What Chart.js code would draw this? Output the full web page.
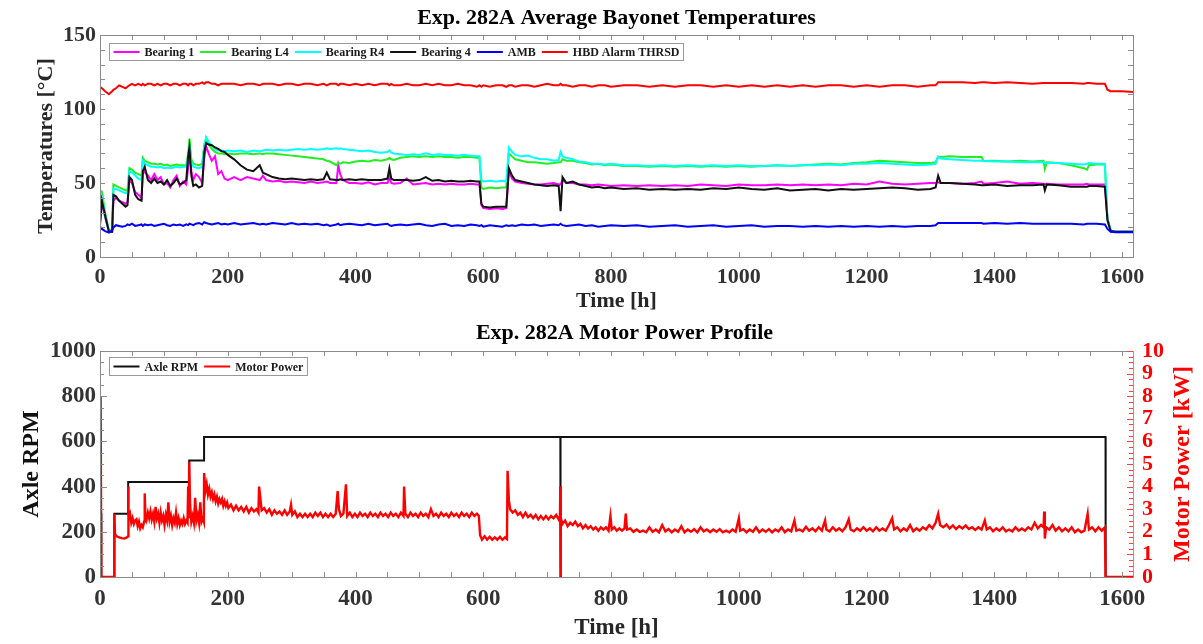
<!DOCTYPE html>
<html><head><meta charset="utf-8">
<script src="https://cdn.jsdelivr.net/npm/chart.js@4.4.1/dist/chart.umd.min.js"></script>
<style>
html,body{margin:0;padding:0;background:#fff;}
#wrap{position:relative;width:1203px;height:644px;overflow:hidden;}
canvas{position:absolute;left:0;}
#c1{top:0;} #c2{top:318px;}
</style></head><body>
<div id="wrap"><canvas id="c1" width="1203" height="318"></canvas><canvas id="c2" width="1203" height="326"></canvas></div>
<script>
// ---------- DATA ----------
const xTickValues = [0,200,400,600,800,1000,1200,1400,1600];
const tempTickValues = [0,50,100,150];
const rpmTickValues = [0,200,400,600,800,1000];
const kwTickValues = [0,1,2,3,4,5,6,7,8,9,10];

const tempHours = [0,3,8,14,19,21,25,30,35,40,
43,46,50,55,60,65,67,70,75,80,
85,90,95,100,105,110,115,120,125,130,
135,138,140,143,146,150,155,160,163,166,
170,175,180,185,190,195,200,210,220,230,
240,250,255,260,270,280,290,300,310,320,
330,340,350,355,360,370,373,376,380,390,
400,410,420,430,440,450,453,456,460,470,
480,490,500,510,520,530,540,550,560,570,
580,590,594,597,600,610,620,630,636,640,
645,650,660,670,680,690,700,710,718,721,
724,730,740,750,760,770,780,790,800,820,
840,860,880,900,920,940,960,980,1000,1020,
1040,1060,1080,1100,1120,1140,1160,1180,1200,1220,
1240,1260,1280,1300,1308,1312,1316,1330,1350,1370,
1380,1383,1400,1420,1440,1460,1477,1479,1482,1500,
1520,1540,1545,1548,1560,1573,1577,1582,1590,1600,
1617];

const bearing1 = [22,37,27,17,17,38,40,38,37,36,
37,52,50,44,42,40,56,58,55,52,
56,52,54,49,50,47,52,55,48,51,
49,60,72,58,52,56,54,50,66,75,
70,65,68,56,58,53,52,54,52,54,
53,52,55,52,51,51.5,50.5,51,50.5,50,
51,50,50.5,51,50,50,62,56,52,50,
50,49.5,50.5,49,50,50,54,50,49.5,50,
53,49,49.5,50,49,49.5,49,49.5,49,49,
49.5,49,49,35,33,32.5,33,32.5,33,58,
53,51,50,49.5,49,49,49.5,50,49,49,
52,50,50,49,49,48.5,49,48.5,48,48.5,
48,48.5,48,48.5,48,49,48.5,48,49,48.5,
48.5,49,48.5,49,48.5,49,48.5,49.5,49,51,
49.5,49,49.5,50,50,50.5,50,50,49.5,50,
51,49.5,50,51,49.5,50,49.5,49,49.5,49,
49,49,49.5,49,49,49,26,18,17,17,
17];

const bearingL4 = [45,44,30,18,18,49,48,47,46,45,
45,60,59,57,56,55,67,65,64,63,
63,62.5,63,62,62.5,61.5,62,62.5,62,62,
62,70,80,66,63,62.5,62,63,75,80,
76,73,71,70,70,69.5,70,69.5,70,70,
69.5,70,69.5,70,70,69.5,69,68.5,68,67.5,
67,66.5,66,65,64.5,62,63.5,63,64,63.5,
64.5,65,64.5,65.5,65,66,67,66,65.5,67,
67.5,68,67.5,68,67.5,68,67.5,67.5,67,67.5,
67.5,67,67,47,46,47,46.5,47,47,70,
68,66,65,64,64,63.5,63,63.5,64,64,
66,65,65,64,63.5,62.5,63,62,62.5,61.5,
61.5,61,61.5,61,61.5,61,61.5,61,61.5,61,
61.5,62,61.5,62,62.5,63,62.5,63.5,64,65,
64.5,64,63.5,63.5,64,67.5,67.5,68,67.5,67.5,
67.5,64.8,65,64.5,65,64.5,65,59.5,64,63.5,
62,60,59,62,62.5,62.5,25,18,17,17,
17];

const bearingR4 = [42,41,28,17.5,17.5,46,46,45,44,43,
43,58,57,55,53,52,65,63,62,61,
61,60.5,61,60,60.5,60,60.5,61,60.5,61,
61,68,74,64,61,60.5,60,61,74,81,
78,75,73,72,72,71.5,72,71.5,72,71,
72,71.5,72,72.5,72,72.5,72,72.5,73,72.5,
73,72.5,73,73.5,73,73.5,73,73.5,73,72.5,
72,71.5,72,71,70.5,71,72,70.5,70,69.5,
69,69.5,69,70,69,69.5,69,69,68.5,69,
68.5,68,68,52,51,51.5,51,51.5,51,74,
71,69,68,68.5,67,66,66,65,65.5,71,
68,67,66,64.5,64,63,63,62.5,63,62,
62,61.5,62,61.5,62,61.5,62,61.5,62,61.5,
61.5,62,61.5,62,62,62.5,62,63,63,63.5,
63,62.5,62,62.5,63,68,66.5,66,65.5,65,
65,64.8,64.5,64.5,64,64,64,63.5,63.5,63.5,
63,62.5,63,63.5,63,63,25,18,17,17,
17];

const bearing4 = [22,38,28,17,17,42,41,38,36,34,
35,54,52,42,39,38,58,61,52,50,
53,50,51,49,52,48,50,53,49,50,
52,68,74,55,48,49,47,48,70,77,
76,75.5,74,73,71.5,71,69,66,62,59,
58,62,57,56,54,53,52.5,53,52.5,52,
52.5,52,52.5,57,52.5,52,52,52.5,52,52.5,
52,52.5,52,52,52,53,60,53,52,52,
52,51.5,52,54,51.5,52,51,51.5,51,51,
51.5,51,51,36,34,33.5,34,34,34,60,
55,52,51,50,49,48.5,48,48.5,48,31,
54,50,51,49,48,47,47.5,46.5,47,46,
46.5,45.5,46,45.5,46,45.5,46.5,46,47,46,
45.5,46.5,45,45.5,46,45,46,45.5,46,46.5,
47,46.5,45.5,46,47,55,50,50,49.5,49,
48.5,48.5,49,48,48.5,48.5,49,45,49,48.5,
47.5,47.5,47.5,48,48,47.5,25,17.5,17,17,
17];

const amb = [20.5,19,17.5,16.5,18,20,21.5,21,20.5,21,
22,21.5,22.5,21,21.5,22,21,22,21.5,22,
21,21.5,22,22.5,21.5,21,22,21.5,22,21,
22,21.5,22.5,22,21.5,22.5,23,22,23.5,23,
22.5,22,22.5,23,22,22.5,22,23,22,22.5,
23,22,22.5,22,23,22.5,22,23,22,22.5,
22,22.5,21.5,22,21,22,22.5,21.5,22,22.5,
22,21.5,22.5,21.5,22,22.5,21.5,21,21.5,22,
21.5,22,22.5,21.5,21,22,22.5,21,21.5,21,
22,21.5,21,21.5,20.5,21.5,21,20.5,21.5,21,
21.5,21,22,21.5,22,21,21.5,22,21.5,22.5,
21.5,21,21.5,22,21,21.5,20.5,21,21.5,21,
21.5,20.5,21,21.5,20.5,21,21.5,20.5,21,21.5,
20.5,21,21,20.5,21,20.5,21,20.5,21,20.5,
21,20.5,21,21,21.5,23,23,23,23,23,
23,22.5,23,22.5,23,22.5,22.5,22.5,22.5,22.5,
22.5,22,22.5,22.5,22.5,22,19,17,16.8,16.8,
16.8];

const hbdAlarm = [115,114,112,110,112,113,114,116,115,114,
115,116,117,116,117,116,117,116,117,117,
116,117,116,117,117,116,117,117,116,117,
117,116,117,117,116,117,117,118,117,118,
118,117,117,116,117,117,117,117,116,117,
117,116,117,117,117,116,117,117,116,117,
117,116,117,116,117,117,116,117,117,116,
117,116,117,116,117,117,116,117,116,116,
117,116,116,117,116,117,116,116,117,116,
116,115,116,115,116,115,116,116,115,116,
116,115,116,116,115,116,117,116,116,117,
116,116,115,116,116,115,116,116,115,116,
116,115,116,115,116,116,115,116,115,116,
115,116,115,116,115,116,116,115,116,115,
116,116,115,116,116,118,118,118,118,117.5,
118,118,117.5,118,117.5,117,117.5,117.5,117.5,117.5,
117.5,117,117.5,117.5,117,117,113,112,112,112,
111.5];

// [hour, RPM]
const axleRpm = [[0,280],[2,280],[2.1,0],[22.4,0],[22.5,280],[44,280],[44.1,420],[139.5,420],[139.6,515],
[162.8,515],[162.9,620],[720.6,620],[720.8,0],[721,620],[1574,620],[1574.2,0],[1617,0]];

// [hour, kW]
const motorPower = [[0,2.8],[0.6,8],[1.4,8],[2,0],[22.3,0],[22.4,2.8],[23.5,1.9],[26,1.8],[30,1.75],[34,1.72],[38,1.7],[42,1.75],[43.9,1.8],
[44,4.0],[45,2.6],[47,2.8],[49,2.4],[51,2.6],[53,2.35],[55,2.5],[57,2.55],[59,2.25],[61,2.45],[63,2.15],[65,2.3],[67,2.2],[69,2.45],
[70,3.7],[71,2.8],[73,2.55],[75,2.85],[77,2.6],[79,2.9],[81,2.55],[83,2.8],[85,2.45],[87,3.1],[89,2.6],[91,2.8],[93,2.4],[95,2.85],[97,2.5],[99,2.7],
[101,2.3],[103,2.75],[105,2.5],[107,3.3],[109,2.45],[111,2.7],[113,2.3],[115,2.6],[117,2.4],[119,2.85],[121,2.35],[123,2.6],[125,2.3],[127,2.5],
[129,2.35],[131,2.6],[133,2.35],[135,2.5],[137,2.4],[138,4.0],[139,2.6],
[139.6,5.1],[141,3.2],[143,2.45],[145,2.7],[147,2.4],[149,3.5],[151,2.5],[153,2.75],[155,2.4],[157,3.3],[159,2.45],[161,2.6],[162.5,2.45],
[163,4.6],[165,3.8],[167,4.1],[169,3.65],[171,3.9],[173,3.55],[175,3.75],[177,3.45],[179,3.65],[181,3.35],[183,3.55],[185,3.25],[187,3.45],[189,3.3],
[191,3.45],[193,3.15],[195,3.35],[197,3.15],[199,3.3],
[201,3.05],[205,3.2],[209,2.95],[213,3.15],[217,2.95],[221,3.1],[225,2.9],[229,3.1],[233,2.85],[237,3.05],[241,2.9],[245,3.0],[248,2.85],[249,4.0],
[251,3.5],[253,2.95],[257,3.05],[261,2.85],[265,3.0],[269,2.75],[273,2.95],[277,2.8],[281,2.9],[285,2.75],[289,2.95],[293,2.75],[297,2.9],[299,3.2],
[301,2.75],[305,2.9],[309,2.65],[313,2.8],[317,2.65],[321,2.8],[325,2.65],[329,2.8],[333,2.65],[337,2.85],[341,2.7],[345,2.85],[349,2.65],[353,2.8],
[357,2.65],[361,2.8],[365,2.65],[369,2.8],[372,3.8],[374,3.0],[377,2.7],[381,2.8],[385,4.1],[387,2.7],[391,2.85],[395,2.65],[399,2.8],[403,2.65],
[407,2.85],[411,2.7],[415,2.8],[419,2.65],[423,2.85],[427,2.7],[431,2.8],[435,2.65],[439,2.85],[443,2.7],[447,2.8],[451,2.65],[455,2.85],[459,2.7],
[463,2.8],[467,2.65],[471,2.85],[475,2.7],[476,4.0],[478,2.8],[482,2.65],[486,2.85],[490,2.7],[494,2.8],[498,2.65],[502,2.85],[506,2.7],[510,2.8],
[514,2.65],[518,3.0],[522,2.7],[526,2.8],[530,2.65],[534,2.85],[538,2.7],[542,2.8],[546,2.65],[550,2.85],[554,2.7],[558,2.8],[562,2.65],[566,2.85],
[570,2.7],[574,2.8],[578,2.65],[582,2.85],[586,2.7],[590,2.8],[593,2.7],
[595,1.85],[598,1.65],[602,1.8],[606,1.65],[610,1.78],[614,1.65],[618,1.75],[622,1.65],[626,1.78],[630,1.65],[634,1.75],[637,1.68],
[638,4.7],[640,3.4],[642,3.0],[646,2.85],[650,2.95],[654,2.75],[658,2.85],[662,2.65],[666,2.85],[670,2.65],[674,2.75],[678,2.6],[682,2.75],[686,2.55],
[690,2.7],[694,2.55],[698,2.7],[702,2.55],[706,2.7],[710,2.6],[714,2.75],[718,2.55],[720,2.7],[720.5,4.0],[721,0],[721.5,2.6],
[724,2.35],[728,2.5],[732,2.25],[736,2.4],[740,2.3],[744,2.45],[748,2.25],[752,2.35],[756,2.15],[760,2.3],[764,2.15],[768,2.25],[772,2.1],[776,2.2],
[780,2.05],[784,2.2],[788,2.1],[792,2.2],[796,2.05],[799,2.7],[801,2.1],[805,2.2],[809,2.05],[813,2.15],[817,2.05],[821,2.15],[823,2.8],[825,2.1],
[830,2.15],[835,2.0],[840,2.1],[845,2.0],[850,2.05],[855,1.98],[860,2.2],[865,2.0],[870,2.1],[875,1.98],[880,2.3],[885,2.02],[890,2.12],
[895,1.98],[900,2.1],[905,2.0],[910,2.25],[915,1.98],[920,2.1],[925,2.0],[930,2.12],[935,1.98],[940,2.2],[945,2.02],[950,2.1],[955,1.98],
[960,2.1],[965,2.0],[970,2.12],[975,1.98],[980,2.05],[985,1.98],[990,2.1],[995,2.0],[1000,2.6],[1002,2.05],[1007,2.12],[1012,1.98],
[1017,2.1],[1022,2.0],[1027,2.2],[1032,1.98],[1037,2.1],[1042,2.0],[1047,2.12],[1052,1.98],[1057,2.1],[1062,2.02],[1067,2.2],[1072,1.98],
[1077,2.1],[1082,2.02],[1087,2.5],[1090,2.05],[1095,2.1],[1100,2.02],[1105,2.22],[1110,2.05],[1115,2.15],[1120,2.02],[1125,2.2],[1130,2.05],
[1135,2.5],[1137,2.1],[1142,2.02],[1147,2.2],[1152,2.05],[1157,2.15],[1162,2.02],[1167,2.2],[1172,2.55],[1175,2.1],[1180,2.02],[1185,2.15],
[1190,2.05],[1195,2.2],[1200,2.05],[1205,2.15],[1210,2.02],[1215,2.2],[1220,2.05],[1225,2.15],[1230,2.05],[1235,2.3],[1240,2.6],[1243,2.1],
[1248,2.2],[1253,2.02],[1258,2.15],[1263,2.05],[1268,2.3],[1273,2.02],[1278,2.15],[1283,2.05],[1288,2.2],[1293,2.1],[1298,2.3],[1303,2.15],
[1308,2.4],[1312,2.8],[1315,2.3],[1320,2.2],[1325,2.32],[1330,2.15],[1335,2.28],[1340,2.12],[1345,2.25],[1350,2.15],[1355,2.28],[1360,2.12],
[1365,2.2],[1370,2.08],[1375,2.2],[1380,2.1],[1385,2.5],[1388,2.1],[1393,2.2],[1398,2.02],[1403,2.15],[1408,2.05],[1413,2.2],[1418,2.02],
[1423,2.1],[1428,2.02],[1433,2.2],[1438,2.05],[1443,2.15],[1448,2.05],[1453,2.2],[1458,2.1],[1463,2.4],[1468,2.15],[1473,2.3],[1477,2.2],
[1478,2.9],[1479,1.7],[1481,2.2],[1486,2.1],[1491,2.3],[1496,2.05],[1501,2.2],[1506,2.02],[1511,2.15],[1516,2.02],[1521,2.2],[1526,1.98],
[1531,2.1],[1536,1.98],[1541,2.05],[1546,2.8],[1548,2.1],[1553,2.2],[1558,2.02],[1563,2.2],[1568,2.05],[1573,2.2],[1574,0],[1617,0]];

// ---------- helpers / plugins ----------
const SERIF = "'Liberation Serif','Times New Roman',serif";
Chart.defaults.font.family = SERIF;

const toXY = (xs, ys) => xs.map((x, i) => ({x: x, y: ys[i]}));
const pairsXY = p => p.map(d => ({x: d[0], y: d[1]}));
const fixTicks = vals => (s) => { s.ticks = vals.map(v => ({value: v})); };
const plain = v => String(v);

const areaTitle = {
  id: 'areaTitle',
  afterDraw(chart, args, o) {
    const {ctx, chartArea: a} = chart;
    ctx.save();
    ctx.font = o.font; ctx.fillStyle = o.color || '#000';
    ctx.textAlign = 'center'; ctx.textBaseline = 'middle';
    ctx.fillText(o.text, (a.left + a.right) / 2 + (o.dx || 0), o.y);
    if (o.side) {
      ctx.font = o.side.font; ctx.fillStyle = o.side.color;
      ctx.translate(o.side.x, (a.top + a.bottom) / 2);
      ctx.rotate(-Math.PI / 2);
      ctx.fillText(o.side.text, 0, 0);
    }
    ctx.restore();
  }
};

const frameTicks = {
  id: 'frameTicks',
  afterDatasetsDraw(chart, args, o) {
    const {ctx, chartArea: a} = chart;
    ctx.save();
    ctx.lineWidth = 1;
    ctx.strokeStyle = o.frame;
    ctx.strokeRect(Math.round(a.left) + 0.5, Math.round(a.top) + 0.5, Math.round(a.right - a.left), Math.round(a.bottom - a.top));
    if (o.rightColor) {
      ctx.strokeStyle = o.rightColor;
      ctx.beginPath(); ctx.moveTo(Math.round(a.right) + 0.5, a.top); ctx.lineTo(Math.round(a.right) + 0.5, a.bottom + 1); ctx.stroke();
    }
    (o.marks || []).forEach(m => {
      const s = chart.scales[m.axis];
      ctx.strokeStyle = m.color;
      const n = Math.round((s.max - s.min) / m.step);
      for (let i = 0; i <= n; i++) {
        const v = s.min + i * m.step;
        if (v > s.max + 1e-9) break;
        const p = Math.round(s.getPixelForValue(v)) + 0.5;
        const isMajor = m.major ? Math.abs(v / m.major - Math.round(v / m.major)) < 1e-6 : false;
        const len = isMajor ? m.majorLen : m.len;
        ctx.beginPath();
        m.sides.forEach(side => {
          if (side === 'bottom') { ctx.moveTo(p, a.bottom); ctx.lineTo(p, a.bottom - len); }
          if (side === 'top') { ctx.moveTo(p, a.top); ctx.lineTo(p, a.top + len); }
          if (side === 'left') { ctx.moveTo(a.left, p); ctx.lineTo(a.left + len, p); }
          if (side === 'right') { ctx.moveTo(a.right, p); ctx.lineTo(a.right - len, p); }
        });
        ctx.stroke();
      }
    });
    ctx.restore();
  }
};

const boxLegend = {
  id: 'boxLegend',
  afterDatasetsDraw(chart, args, o) {
    const {ctx, chartArea: a} = chart;
    ctx.save();
    ctx.font = o.font;
    const items = chart.data.datasets.map(d => ({label: d.label, color: d.borderColor}));
    let w = o.pad;
    items.forEach((it, i) => { it.tw = ctx.measureText(it.label).width; w += o.line + o.gap + it.tw + (i < items.length - 1 ? o.gap2 : 0); });
    w += o.pad;
    const x0 = Math.round(a.left + o.dx) + 0.5, y0 = Math.round(a.top + o.dy) + 0.5;
    ctx.fillStyle = '#fff';
    ctx.fillRect(x0, y0, w, o.h);
    ctx.strokeStyle = o.border; ctx.lineWidth = 1;
    ctx.strokeRect(x0, y0, w, o.h);
    let x = x0 + o.pad;
    const cy = y0 + o.h / 2;
    ctx.textBaseline = 'middle'; ctx.textAlign = 'left';
    items.forEach(it => {
      ctx.strokeStyle = it.color; ctx.lineWidth = 2;
      ctx.beginPath(); ctx.moveTo(x, cy); ctx.lineTo(x + o.line, cy); ctx.stroke();
      x += o.line + o.gap;
      ctx.fillStyle = o.color;
      ctx.fillText(it.label, x, cy + 1);
      x += it.tw + o.gap2;
    });
    ctx.restore();
  }
};

const lineDs = (label, data, color, order, yAxisID, width) => ({
  label, data, borderColor: color, backgroundColor: color, borderWidth: width || 2,
  pointRadius: 0, tension: 0, fill: false, order, yAxisID: yAxisID || 'y'
});

const FRAME = '#8a8a8a';
const TICKC = '#333333';

// ---------- Chart 1: temperatures ----------
new Chart(document.getElementById('c1'), {
  type: 'line',
  data: {
    datasets: [
      lineDs('Bearing 1', toXY(tempHours, bearing1), '#ff00ff', 6),
      lineDs('Bearing L4', toXY(tempHours, bearingL4), '#22ee22', 5),
      lineDs('Bearing R4', toXY(tempHours, bearingR4), '#00ffff', 4),
      lineDs('Bearing 4', toXY(tempHours, bearing4), '#111111', 3),
      lineDs('AMB', toXY(tempHours, amb), '#0000ff', 2),
      lineDs('HBD Alarm THRSD', toXY(tempHours, hbdAlarm), '#ff0000', 1)
    ]
  },
  options: {
    responsive: false, animation: false, events: [],
    layout: {padding: {top: 35, right: 70, left: 0, bottom: 0}},
    plugins: {
      legend: {display: false}, tooltip: {enabled: false},
      areaTitle: {text: 'Exp. 282A Average Bayonet Temperatures', y: 18, font: 'bold 22px ' + SERIF},
      boxLegend: {dx: 9, dy: 8, h: 17, pad: 4, line: 26, gap: 5, gap2: 6, font: 'bold 12px ' + SERIF, color: '#1a1a1a', border: '#999'},
      frameTicks: {frame: FRAME, marks: [
        {axis: 'x', step: 50, len: 5, sides: ['bottom', 'top'], color: FRAME},
        {axis: 'y', step: 10, len: 5, sides: ['left', 'right'], color: FRAME}
      ]}
    },
    scales: {
      x: {
        type: 'linear', min: 0, max: 1617,
        grid: {display: false, drawTicks: false}, border: {display: false},
        afterBuildTicks: fixTicks(xTickValues),
        ticks: {callback: plain, autoSkip: false, maxRotation: 0, padding: 7, color: TICKC, font: {size: 22, weight: 'bold'}},
        title: {display: true, text: 'Time [h]', color: '#262626', font: {size: 22, weight: 'bold'}, padding: {top: 0, bottom: 3}},
        afterFit(s) { s.height = 61; }
      },
      y: {
        min: 0, max: 150,
        grid: {display: false, drawTicks: false}, border: {display: false},
        afterBuildTicks: fixTicks(tempTickValues),
        ticks: {callback: plain, autoSkip: false, padding: 4, color: TICKC, font: {size: 22, weight: 'bold'}},
        title: {display: true, text: 'Temperatures [°C]', color: '#262626', font: {size: 22, weight: 'bold'}, padding: {top: 33, bottom: 0}},
        afterFit(s) { s.width = 100; }
      }
    }
  },
  plugins: [frameTicks, boxLegend, areaTitle]
});

// ---------- Chart 2: motor power ----------
new Chart(document.getElementById('c2'), {
  type: 'line',
  data: {
    datasets: [
      lineDs('Axle RPM', pairsXY(axleRpm), '#111111', 2, 'y'),
      lineDs('Motor Power', pairsXY(motorPower), '#ff0000', 1, 'y1', 2.4)
    ]
  },
  options: {
    responsive: false, animation: false, events: [],
    layout: {padding: {top: 33, right: 0, left: 0, bottom: 0}},
    plugins: {
      legend: {display: false}, tooltip: {enabled: false},
      areaTitle: {text: 'Exp. 282A Motor Power Profile', y: 15, dx: 8, font: 'bold 22px ' + SERIF,
        side: {text: 'Motor Power [kW]', x: 1183, color: '#ff0000', font: 'bold 24px ' + SERIF}},
      boxLegend: {dx: 9, dy: 6, h: 18, pad: 4, line: 26, gap: 5, gap2: 6, font: 'bold 12px ' + SERIF, color: '#1a1a1a', border: '#999'},
      frameTicks: {frame: FRAME, rightColor: '#ff7070', marks: [
        {axis: 'x', step: 50, len: 5, sides: ['bottom', 'top'], color: FRAME},
        {axis: 'y', step: 50, major: 200, len: 4, majorLen: 7, sides: ['left'], color: FRAME},
        {axis: 'y1', step: 0.25, major: 1, len: 4, majorLen: 6, sides: ['right'], color: '#ff4040'}
      ]}
    },
    scales: {
      x: {
        type: 'linear', min: 0, max: 1617,
        grid: {display: false, drawTicks: false}, border: {display: false},
        afterBuildTicks: fixTicks(xTickValues),
        ticks: {callback: plain, autoSkip: false, maxRotation: 0, padding: 8, color: TICKC, font: {size: 23, weight: 'bold'}},
        title: {display: true, text: 'Time [h]', color: '#262626', font: {size: 23, weight: 'bold'}, padding: {top: 0, bottom: 2}},
        afterFit(s) { s.height = 67; }
      },
      y: {
        position: 'left', min: 0, max: 1000,
        grid: {display: false, drawTicks: false}, border: {display: false},
        afterBuildTicks: fixTicks(rpmTickValues),
        ticks: {callback: plain, autoSkip: false, padding: 4, color: TICKC, font: {size: 23, weight: 'bold'}},
        title: {display: true, text: 'Axle RPM', color: '#111', font: {size: 24, weight: 'bold'}, padding: {top: 17, bottom: 0}},
        afterFit(s) { s.width = 100; }
      },
      y1: {
        position: 'right', min: 0, max: 10,
        grid: {display: false, drawTicks: false}, border: {display: false},
        afterBuildTicks: fixTicks(kwTickValues),
        ticks: {callback: plain, autoSkip: false, padding: 9, color: '#ff0000', font: {size: 22, weight: 'bold'}},
        title: {display: false},
        afterFit(s) { s.width = 70; }
      }
    }
  },
  plugins: [frameTicks, boxLegend, areaTitle]
});
</script>
</body></html>
